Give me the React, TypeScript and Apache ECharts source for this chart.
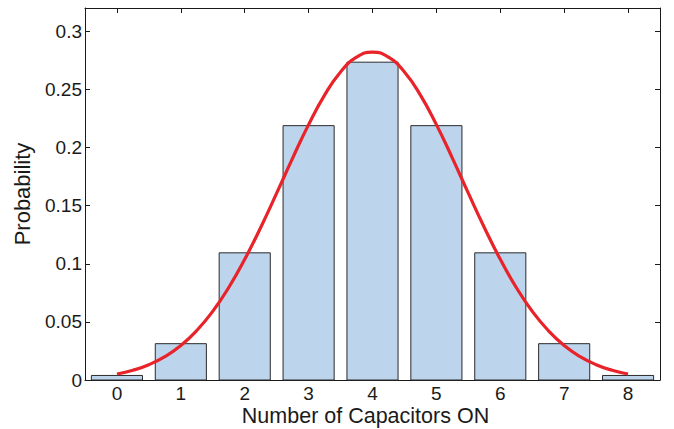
import React, { useEffect, useRef } from "react";
import * as echarts from "echarts";

const categories = [0, 1, 2, 3, 4, 5, 6, 7, 8];
const probabilities = [0.0039, 0.03125, 0.1094, 0.2188, 0.2734, 0.2188, 0.1094, 0.03125, 0.0039];
const curveX = [0, 0.25, 0.5, 0.75, 1, 1.25, 1.5, 1.75, 2, 2.25, 2.5, 2.75, 3, 3.25, 3.5, 3.75, 4,
  4.25, 4.5, 4.75, 5, 5.25, 5.5, 5.75, 6, 6.25, 6.5, 6.75, 7, 7.25, 7.5, 7.75, 8];
const curveY = [0.0052, 0.0084, 0.0132, 0.0201, 0.0297, 0.0426, 0.0591, 0.0796, 0.1038, 0.1312,
  0.1607, 0.1909, 0.2197, 0.2451, 0.265, 0.2777, 0.2821, 0.2777, 0.265, 0.2451, 0.2197, 0.1909,
  0.1607, 0.1312, 0.1038, 0.0796, 0.0591, 0.0426, 0.0297, 0.0201, 0.0132, 0.0084, 0.0052];
const yTicks = [0, 0.05, 0.1, 0.15, 0.2, 0.25, 0.3];

const FONT = "'Liberation Sans', Arial, Helvetica, sans-serif";
const INK = "#1a1a1a";

export default function App() {
  const ref = useRef<HTMLDivElement>(null);
  useEffect(() => {
    const chart = echarts.init(ref.current!, null, { renderer: "svg" });
    const barData = categories.map((c, i) => [c, probabilities[i]]);
    const lineData = curveX.map((x, i) => [x, curveY[i]]);
    const baseX = {
      type: "value",
      min: -0.5,
      max: 8.5,
      splitLine: { show: false },
      axisLine: { show: true, onZero: false, lineStyle: { color: INK, width: 1 } },
      axisTick: { show: true, inside: true, length: 5, customValues: categories, lineStyle: { color: INK } },
    };
    const baseY = {
      type: "value",
      min: 0,
      max: 0.32,
      splitLine: { show: false },
      axisLine: { show: true, onZero: false, lineStyle: { color: INK, width: 1 } },
      axisTick: { show: true, inside: true, length: 5, customValues: yTicks, lineStyle: { color: INK } },
    };
    chart.setOption({
      animation: false,
      grid: { left: 85, right: 14, top: 8, bottom: 49, containLabel: false, outerBoundsMode: "none" },
      xAxis: [
        {
          ...baseX,
          position: "bottom",
          name: "Number of Capacitors ON",
          nameLocation: "middle",
          nameGap: 25,
          nameMoveOverlap: false,
          nameTextStyle: { fontFamily: FONT, fontSize: 21.5, lineHeight: 21, color: INK, padding: [0, 14, 0, 0] },
          axisLabel: { customValues: categories, fontFamily: FONT, fontSize: 19, color: INK, margin: 4 },
        },
        { ...baseX, position: "top", axisLabel: { show: false } },
      ],
      yAxis: [
        {
          ...baseY,
          position: "left",
          name: "Probability",
          nameLocation: "middle",
          nameGap: 52,
          nameTextStyle: { fontFamily: FONT, fontSize: 22, color: INK },
          axisLabel: { customValues: yTicks, fontFamily: FONT, fontSize: 19, color: INK, margin: 3 },
        },
        { ...baseY, position: "right", axisLabel: { show: false } },
      ],
      series: [
        {
          type: "custom",
          data: barData,
          renderItem: (params: any, api: any) => {
            const x = api.value(0);
            const y = api.value(1);
            const p0 = api.coord([x - 0.4, y]);
            const p1 = api.coord([x + 0.4, 0]);
            return {
              type: "rect",
              shape: { x: p0[0], y: p0[1], width: p1[0] - p0[0], height: p1[1] - p0[1] },
              style: { fill: "#bcd4ec", stroke: "#2b2b2b", lineWidth: 1 },
            };
          },
          z: 2,
        },
        {
          type: "line",
          data: lineData,
          smooth: true,
          showSymbol: false,
          lineStyle: { color: "#e8232a", width: 3.2 },
          z: 3,
        },
      ],
    });
    return () => chart.dispose();
  }, []);
  return <div ref={ref} style={{ width: 674, height: 429, position: "absolute", left: 0, top: 0, background: "#fff" }} />;
}
